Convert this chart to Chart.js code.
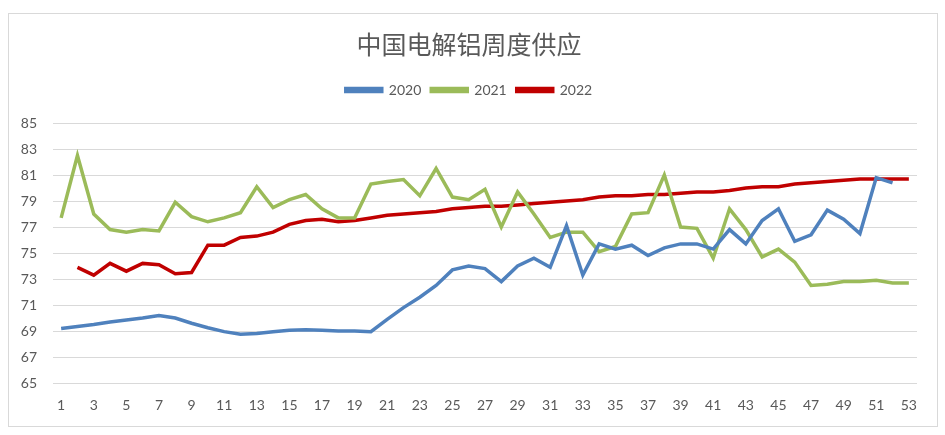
<!DOCTYPE html>
<html>
<head>
<meta charset="utf-8">
<title>中国电解铝周度供应</title>
<script src="https://cdn.jsdelivr.net/npm/chart.js@4"></script>
<style>
    body { margin: 0; background: #ffffff; }
    .wrap { position: relative; width: 945px; height: 435px; }
    .frame { position: absolute; left: 8px; top: 13px; width: 928px; height: 412px; border: 1px solid #d9d9d9; }
    canvas { position: absolute; left: 0; top: 0; }
</style>
</head>
<body>
<div class="wrap">
    <div class="frame"></div>
    <canvas id="supplyChart" width="945" height="435"></canvas>
</div>
<script>
// week numbers 1..53
const weeks = ['1', '2', '3', '4', '5', '6', '7', '8', '9', '10',
    '11', '12', '13', '14', '15', '16', '17', '18', '19', '20',
    '21', '22', '23', '24', '25', '26', '27', '28', '29', '30',
    '31', '32', '33', '34', '35', '36', '37', '38', '39', '40',
    '41', '42', '43', '44', '45', '46', '47', '48', '49', '50',
    '51', '52', '53'];

const supply2020 = [69.2, 69.35, 69.5, 69.7, 69.85, 70.0, 70.2, 70.0, 69.6, 69.25,
    68.95, 68.75, 68.8, 68.95, 69.05, 69.1, 69.05, 69.0, 69.0, 68.95,
    69.9, 70.8, 71.6, 72.5, 73.7, 74.0, 73.8, 72.8, 74.0, 74.6,
    73.9, 77.1, 73.3, 75.7, 75.3, 75.6, 74.8, 75.4, 75.7, 75.7,
    75.3, 76.8, 75.7, 77.5, 78.4, 75.9, 76.4, 78.3, 77.6, 76.5,
    80.8, 80.4, null];

const supply2021 = [77.7, 82.5, 78.0, 76.8, 76.6, 76.8, 76.7, 78.9, 77.8, 77.4,
    77.7, 78.1, 80.1, 78.5, 79.1, 79.5, 78.4, 77.7, 77.7, 80.3,
    80.5, 80.65, 79.4, 81.5, 79.3, 79.1, 79.9, 77.0, 79.7, 78.0,
    76.2, 76.6, 76.6, 75.1, 75.5, 78.0, 78.1, 81.0, 77.0, 76.9,
    74.6, 78.4, 76.8, 74.7, 75.3, 74.3, 72.5, 72.6, 72.8, 72.8,
    72.9, 72.7, 72.7];

const supply2022 = [null, 73.9, 73.3, 74.2, 73.6, 74.2, 74.1, 73.4, 73.5, 75.6,
    75.6, 76.2, 76.3, 76.6, 77.2, 77.5, 77.6, 77.4, 77.5, 77.7,
    77.9, 78.0, 78.1, 78.2, 78.4, 78.5, 78.6, 78.6, 78.7, 78.8,
    78.9, 79.0, 79.1, 79.3, 79.4, 79.4, 79.5, 79.5, 79.6, 79.7,
    79.7, 79.8, 80.0, 80.1, 80.1, 80.3, 80.4, 80.5, 80.6, 80.7,
    80.7, 80.7, 80.7];

const seriesNames = ['2020', '2021', '2022'];
const seriesColors = ['#4f81bd', '#9bbb59', '#c00000'];

const textColor = '#595959';
const numFont = 'Lato, "Noto Sans", "Noto Sans CJK SC", sans-serif';

// add some space below the legend, like the original
const legendGap = {
    id: 'legendGap',
    beforeUpdate(chart) {
        const legend = chart.legend;
        if (!legend || legend._gapPatched) return;
        const fit = legend.fit;
        legend.fit = function () {
            fit.call(this);
            this.height += 16;
        };
        legend._gapPatched = true;
    }
};

const ctx = document.getElementById('supplyChart');

new Chart(ctx, {
    type: 'line',
    data: {
        labels: weeks,
        datasets: [supply2020, supply2021, supply2022].map((values, i) => ({
            label: seriesNames[i],
            data: values,
            borderColor: seriesColors[i],
            backgroundColor: seriesColors[i],
            borderWidth: 3.5,
            pointRadius: 0,
            tension: 0,
            spanGaps: false
        }))
    },
    options: {
        responsive: false,
        animation: false,
        layout: {
            padding: { left: 21, right: 28, top: 0, bottom: 22 }
        },
        plugins: {
            title: {
                display: true,
                text: '中国电解铝周度供应',
                color: textColor,
                font: { family: '"Noto Sans CJK SC", sans-serif', size: 25, weight: 'normal' },
                padding: { top: 29, bottom: 14 }
            },
            legend: {
                position: 'top',
                labels: {
                    color: textColor,
                    font: { family: numFont, size: 14 },
                    boxWidth: 36,
                    boxHeight: 3,
                    padding: 10
                }
            },
            tooltip: { enabled: false }
        },
        scales: {
            x: {
                offset: true,
                grid: { display: false, drawTicks: false },
                border: { display: false },
                ticks: {
                    color: textColor,
                    font: { family: numFont, size: 14 },
                    padding: 14,
                    maxRotation: 0,
                    autoSkip: false,
                    callback: function (value, index) {
                        return index % 2 === 0 ? weeks[index] : '';
                    }
                },
                afterFit: function (scale) {
                    scale.height = 30;
                }
            },
            y: {
                min: 65,
                max: 85,
                grid: { color: '#d9d9d9', lineWidth: 1, drawTicks: false },
                border: { display: false },
                ticks: {
                    stepSize: 2,
                    color: textColor,
                    font: { family: numFont, size: 14 },
                    padding: 16
                },
                afterFit: function (scale) {
                    scale.width = 32;
                }
            }
        }
    },
    plugins: [legendGap]
});
</script>
</body>
</html>
